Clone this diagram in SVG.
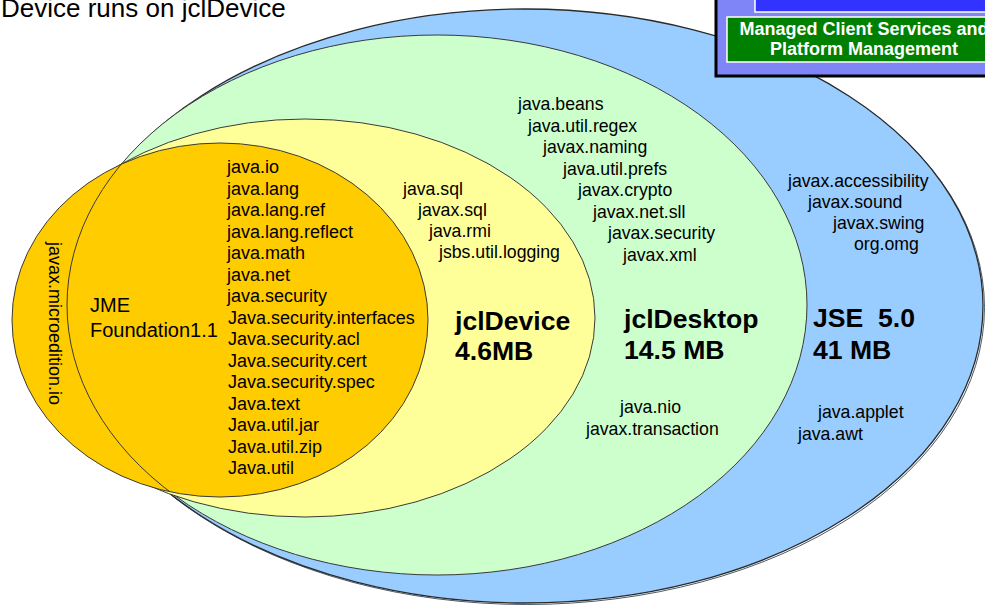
<svg xmlns="http://www.w3.org/2000/svg" width="985" height="605" viewBox="0 0 985 605">
  <style>
    text { font-family: "Liberation Sans", Arial, sans-serif; fill: #000; }
    .pkg { font-size: 17.7px; }
    .pkgL { font-size: 18px; }
    .big { font-size: 26.6px; font-weight: bold; }
    .jme { font-size: 20px; }
    .edge { stroke: #3a3a3a; stroke-width: 1; }
    .boxtxt { font-size: 18px; font-weight: bold; fill: #fff; text-anchor: middle; }
  </style>
  <defs>
    <clipPath id="jmeClip">
      <ellipse cx="220" cy="320" rx="208" ry="177"/>
    </clipPath>
  </defs>

  <rect width="985" height="605" fill="#fff"/>

  <!-- JSE 5.0 -->
  <g id="jse">
    <ellipse cx="526.5" cy="307.5" rx="458" ry="297" fill="none" stroke="#4a5a6a" stroke-width="1"/>
    <ellipse cx="525" cy="306" rx="458" ry="297" fill="#99ccff" stroke="#2a2a2a" stroke-width="1.3"/>
  </g>

  <!-- jclDesktop -->
  <g id="jcldesktop">
    <ellipse cx="437" cy="305" rx="370" ry="270" fill="#ccffcc" class="edge"/>
  </g>

  <!-- jclDevice -->
  <g id="jcldevice">
    <ellipse cx="305" cy="318" rx="290" ry="199" fill="#ffff99" class="edge"/>
  </g>

  <!-- JME Foundation 1.1 -->
  <g id="jme">
    <ellipse cx="220" cy="320" rx="208" ry="177" fill="#ffcc00" class="edge"/>
    <!-- shared left rim of the larger profiles, seen through the JME area -->
    <ellipse cx="437" cy="305" rx="370" ry="270" fill="none" class="edge" clip-path="url(#jmeClip)"/>
  </g>

  <!-- Title -->
  <text x="1" y="17" font-size="26">Device runs on jclDevice</text>

  <!-- Managed services box -->
  <g id="managed-box">
    <rect x="716" y="-10" width="290" height="86" fill="#7f85f6" stroke="#000" stroke-width="3"/>
    <rect x="755" y="-10" width="240" height="22" fill="#3333ff" stroke="#fff" stroke-width="1.5"/>
    <rect x="727" y="17" width="270" height="45" fill="#008000" stroke="#fff" stroke-width="1.5"/>
    <text class="boxtxt" x="864" y="35">Managed Client Services and</text>
    <text class="boxtxt" x="864" y="55">Platform Management</text>
  </g>

  <!-- JME labels -->
  <g id="jme-labels">
    <text class="pkgL" transform="translate(49,242) rotate(90)">javax.microedition.io</text>
    <text class="jme" x="90" y="312">JME</text>
    <text class="jme" x="90" y="337">Foundation1.1</text>
    <text class="pkgL" x="227" y="173">java.io</text>
    <text class="pkgL" x="227" y="194.5">java.lang</text>
    <text class="pkgL" x="227" y="216">java.lang.ref</text>
    <text class="pkgL" x="227" y="237.5">java.lang.reflect</text>
    <text class="pkgL" x="227" y="259">java.math</text>
    <text class="pkgL" x="227" y="280.5">java.net</text>
    <text class="pkgL" x="227" y="302">java.security</text>
    <text class="pkgL" x="228" y="323.5">Java.security.interfaces</text>
    <text class="pkgL" x="228" y="345">Java.security.acl</text>
    <text class="pkgL" x="228" y="366.5">Java.security.cert</text>
    <text class="pkgL" x="228" y="388">Java.security.spec</text>
    <text class="pkgL" x="228" y="409.5">Java.text</text>
    <text class="pkgL" x="228" y="431">Java.util.jar</text>
    <text class="pkgL" x="228" y="452.5">Java.util.zip</text>
    <text class="pkgL" x="228" y="474">Java.util</text>
  </g>

  <!-- jclDevice labels -->
  <g id="jcldevice-labels">
    <text class="pkg" x="403" y="195">java.sql</text>
    <text class="pkg" x="418" y="216">javax.sql</text>
    <text class="pkg" x="429" y="237">java.rmi</text>
    <text class="pkg" x="439" y="258">jsbs.util.logging</text>
    <text class="big" x="455" y="330">jclDevice</text>
    <text class="big" x="455" y="360">4.6MB</text>
  </g>

  <!-- jclDesktop labels -->
  <g id="jcldesktop-labels">
    <text class="pkg" x="518" y="110">java.beans</text>
    <text class="pkg" x="528" y="131.5">java.util.regex</text>
    <text class="pkg" x="543" y="153">javax.naming</text>
    <text class="pkg" x="563" y="174.5">java.util.prefs</text>
    <text class="pkg" x="578" y="196">javax.crypto</text>
    <text class="pkg" x="593" y="217.5">javax.net.sll</text>
    <text class="pkg" x="608" y="239">javax.security</text>
    <text class="pkg" x="623" y="260.5">javax.xml</text>
    <text class="big" x="624" y="328">jclDesktop</text>
    <text class="big" x="624" y="359">14.5 MB</text>
    <text class="pkg" x="620" y="413">java.nio</text>
    <text class="pkg" x="586" y="435">javax.transaction</text>
  </g>

  <!-- JSE labels -->
  <g id="jse-labels">
    <text class="pkg" x="788" y="187">javax.accessibility</text>
    <text class="pkg" x="808" y="208">javax.sound</text>
    <text class="pkg" x="833" y="229">javax.swing</text>
    <text class="pkg" x="854" y="249.5">org.omg</text>
    <text class="big" x="813" y="327" xml:space="preserve">JSE  5.0</text>
    <text class="big" x="813" y="359">41 MB</text>
    <text class="pkg" x="818" y="418">java.applet</text>
    <text class="pkg" x="798" y="440">java.awt</text>
  </g>
</svg>
